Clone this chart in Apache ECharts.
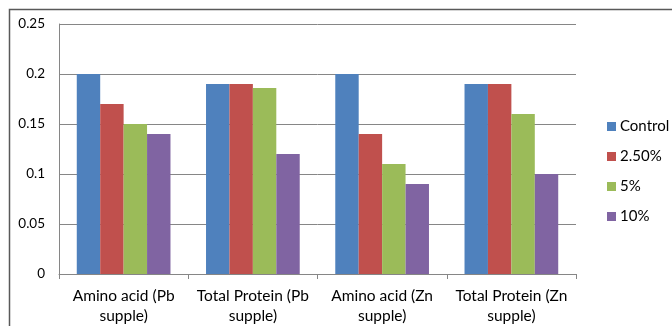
<!DOCTYPE html>
<html>
<head>
<meta charset="utf-8">
<script src="https://cdn.jsdelivr.net/npm/echarts@6/dist/echarts.min.js"></script>
<style>
  html, body { margin: 0; padding: 0; background: #fff; }
  #chart { width: 672px; height: 326px; }
</style>
</head>
<body>
<div id="chart"></div>
<script>
// Categories along the x axis
const categories = [
  'Amino acid (Pb\nsupple)',
  'Total Protein (Pb\nsupple)',
  'Amino acid (Zn\nsupple)',
  'Total Protein (Zn\nsupple)'
];

// One series per treatment level
const seriesNames = ['Control', '2.50%', '5%', '10%'];
const controlValues = [0.2, 0.19, 0.2, 0.19];
const pct250Values  = [0.17, 0.19, 0.14, 0.19];
const pct5Values    = [0.15, 0.186, 0.11, 0.16];
const pct10Values   = [0.14, 0.12, 0.09, 0.1];

// Value-axis ticks
const yTicks = [0, 0.05, 0.1, 0.15, 0.2, 0.25];

const colors = ['#4F81BD', '#C0504D', '#9BBB59', '#8064A2'];
const valueSets = [controlValues, pct250Values, pct5Values, pct10Values];
const fontFamily = 'Lato, "Open Sans", sans-serif';

const chart = echarts.init(document.getElementById('chart'), null, { renderer: 'canvas' });

chart.setOption({
  animation: false,
  color: colors,
  graphic: [{
    type: 'rect',
    shape: { x: 9.5, y: 9.5, width: 700, height: 340 },
    style: { fill: 'none', stroke: '#595959', lineWidth: 1.5 },
    silent: true,
    z: -1
  }],
  grid: { left: 59, right: 96, top: 24, bottom: 50 },
  legend: {
    orient: 'vertical',
    left: 602,
    top: 114,
    itemWidth: 9,
    itemHeight: 9,
    itemGap: 15,
    icon: 'rect',
    textStyle: { fontFamily: fontFamily, fontSize: 15, color: '#000', padding: [0, 0, 0, -1] },
    data: seriesNames
  },
  xAxis: {
    type: 'category',
    data: categories,
    axisLine: { lineStyle: { color: '#868686', width: 1 } },
    axisTick: { show: true, length: 5, lineStyle: { color: '#868686' } },
    axisLabel: {
      fontFamily: fontFamily,
      fontSize: 15.5,
      color: '#000',
      lineHeight: 20,
      margin: 12,
      interval: 0
    }
  },
  yAxis: {
    type: 'value',
    min: yTicks[0],
    max: yTicks[yTicks.length - 1],
    interval: 0.05,
    axisLine: { show: true, lineStyle: { color: '#868686', width: 1 } },
    axisTick: { show: false },
    splitLine: { lineStyle: { color: '#868686', width: 1 } },
    axisLabel: {
      fontFamily: fontFamily,
      fontSize: 13.5,
      color: '#000',
      margin: 14,
      formatter: v => String(parseFloat(v.toFixed(2)))
    }
  },
  series: seriesNames.map((name, i) => ({
    name: name,
    type: 'bar',
    data: valueSets[i],
    barGap: '0%',
    barCategoryGap: '27.5%',
    itemStyle: { color: colors[i] }
  }))
});
</script>
</body>
</html>
